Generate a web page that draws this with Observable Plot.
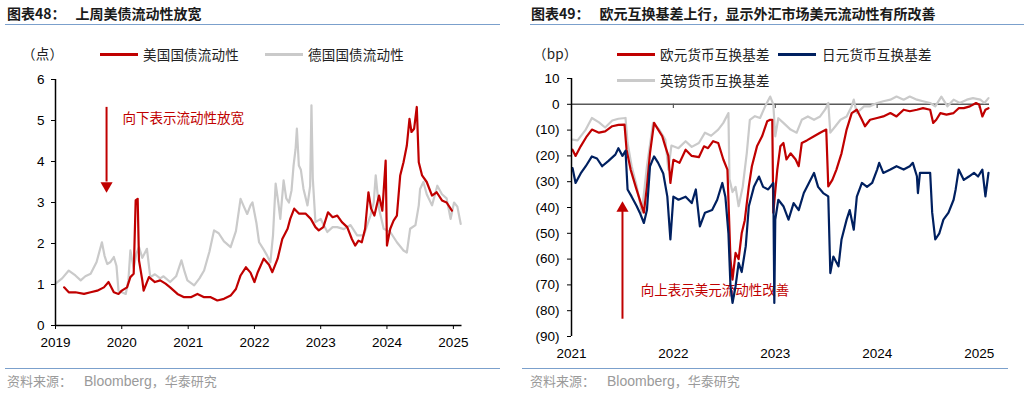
<!DOCTYPE html>
<html><head><meta charset="utf-8">
<script src="https://cdn.jsdelivr.net/npm/d3@7"></script>
<script src="https://cdn.jsdelivr.net/npm/@observablehq/plot@0.6"></script>
<style>
body{margin:0;width:1030px;height:393px;background:#fff;position:relative;overflow:hidden;font-family:"Noto Sans CJK SC","Liberation Sans",sans-serif;}
.t{position:absolute;white-space:nowrap;z-index:3;}
.title{font-size:14px;line-height:14px;font-weight:bold;color:#1a1a1a;top:6px;}
.title span{margin-left:10px;}
.rule{position:absolute;height:0;border-top:1.5px solid #7ba0cc;z-index:3;}
.src{font-size:13px;line-height:13px;color:#9a9a9a;top:374px;}
.src b{font-family:"Liberation Sans",Arial,sans-serif;font-weight:normal;font-size:14px;margin-left:12px;}
.leg{font-size:13.5px;line-height:14px;color:#222;letter-spacing:0.2px;}
.seg{position:absolute;height:3px;z-index:3;}
.plot{position:absolute;top:60px;z-index:1;}
</style></head>
<body>
<div id="left" class="plot" style="left:0px"></div>
<div id="right" class="plot" style="left:515px"></div>

<div class="t title" style="left:7px">图表48：<span>上周美债流动性放宽</span></div>
<div class="rule" style="left:5px;top:23.5px;width:495px"></div>
<div class="t title" style="left:531px">图表49：<span>欧元互换基差上行，显示外汇市场美元流动性有所改善</span></div>
<div class="rule" style="left:530px;top:23.5px;width:494px"></div>

<div class="t leg" style="left:22px;top:46px">（点）</div>
<div class="seg" style="left:100px;top:52.5px;width:38px;background:#c00000"></div>
<div class="t leg" style="left:143px;top:47px">美国国债流动性</div>
<div class="seg" style="left:265px;top:52.5px;width:38px;background:#cacaca"></div>
<div class="t leg" style="left:308px;top:47px">德国国债流动性</div>

<div class="t leg" style="left:533px;top:46px">（bp）</div>
<div class="seg" style="left:617px;top:52.5px;width:38px;background:#c00000"></div>
<div class="t leg" style="left:660px;top:47px">欧元货币互换基差</div>
<div class="seg" style="left:778px;top:52.5px;width:38px;background:#002060"></div>
<div class="t leg" style="left:822px;top:47px">日元货币互换基差</div>
<div class="seg" style="left:617px;top:78.5px;width:38px;background:#cacaca"></div>
<div class="t leg" style="left:660px;top:73px">英镑货币互换基差</div>

<div class="rule" style="left:5px;top:367.5px;width:495px"></div>
<div class="t src" style="left:7px">资料来源：<b>Bloomberg</b>，华泰研究</div>
<div class="rule" style="left:522px;top:367.5px;width:486px"></div>
<div class="t src" style="left:530px">资料来源：<b>Bloomberg</b>，华泰研究</div>

<script>
// ---------- Left chart data (chart 48) ----------
const leftYears = ["2019","2020","2021","2022","2023","2024","2025"];
const leftYTicks = [0,1,2,3,4,5,6];
const usT = [2019.13,2019.20,2019.30,2019.43,2019.53,2019.63,2019.73,2019.80,2019.88,2019.95,2020.0,2020.08,2020.13,2020.18,2020.21,2020.24,2020.26,2020.31,2020.33,2020.41,2020.50,2020.58,2020.66,2020.73,2020.84,2020.94,2021.04,2021.14,2021.24,2021.34,2021.44,2021.54,2021.64,2021.72,2021.79,2021.87,2021.94,2022.0,2022.05,2022.14,2022.22,2022.27,2022.35,2022.42,2022.50,2022.54,2022.60,2022.67,2022.77,2022.85,2022.92,2022.97,2023.04,2023.11,2023.18,2023.25,2023.32,2023.40,2023.47,2023.52,2023.57,2023.62,2023.67,2023.72,2023.76,2023.81,2023.88,2023.93,2023.98,2024.0,2024.05,2024.10,2024.15,2024.20,2024.25,2024.30,2024.34,2024.37,2024.41,2024.45,2024.48,2024.53,2024.60,2024.68,2024.75,2024.83,2024.90,2024.98];
const usV = [0.93,0.81,0.81,0.77,0.81,0.85,0.93,1.06,0.81,0.77,0.85,0.93,1.18,1.26,3.05,3.09,1.59,1.10,0.85,1.18,1.06,1.10,1.02,0.93,0.77,0.69,0.69,0.77,0.69,0.69,0.61,0.65,0.73,0.89,1.22,1.42,1.29,1.06,1.30,1.63,1.48,1.30,1.63,2.11,2.36,2.60,2.85,2.73,2.73,2.60,2.40,2.32,2.40,2.76,2.64,2.68,2.52,2.40,2.11,1.95,2.07,2.03,2.36,3.25,2.85,2.68,3.17,2.80,4.02,1.95,2.36,2.56,2.68,3.66,3.98,4.39,5.04,4.72,4.80,5.33,3.98,3.66,3.50,3.17,3.25,3.05,3.0,2.80];
const deT = [2019.0,2019.1,2019.2,2019.3,2019.38,2019.45,2019.53,2019.62,2019.70,2019.74,2019.78,2019.83,2019.88,2019.92,2019.95,2020.06,2020.10,2020.13,2020.18,2020.22,2020.26,2020.31,2020.38,2020.43,2020.50,2020.58,2020.63,2020.73,2020.82,2020.90,2020.95,2020.99,2021.09,2021.17,2021.24,2021.32,2021.39,2021.46,2021.54,2021.64,2021.72,2021.79,2021.84,2021.89,2021.94,2021.97,2022.03,2022.07,2022.14,2022.19,2022.24,2022.28,2022.32,2022.36,2022.39,2022.44,2022.48,2022.52,2022.56,2022.59,2022.62,2022.64,2022.67,2022.70,2022.74,2022.80,2022.84,2022.86,2022.88,2022.92,2023.0,2023.10,2023.18,2023.25,2023.35,2023.45,2023.55,2023.65,2023.75,2023.80,2023.83,2023.88,2023.95,2024.05,2024.15,2024.25,2024.30,2024.35,2024.43,2024.48,2024.50,2024.55,2024.60,2024.68,2024.76,2024.83,2024.90,2024.96,2025.01,2025.06,2025.11];
const deV = [1.02,1.15,1.34,1.22,1.10,1.20,1.26,1.55,2.03,1.70,1.50,1.55,1.67,1.45,0.85,0.77,1.10,1.83,1.40,1.75,1.91,1.65,1.87,1.18,1.25,1.15,1.20,1.06,1.20,1.59,1.30,1.10,0.98,1.15,1.34,1.80,2.32,2.25,2.05,1.91,2.30,3.09,2.90,2.72,2.93,3.00,2.50,2.03,1.85,1.71,1.54,2.20,3.46,3.00,2.60,3.54,3.10,3.00,3.30,3.90,4.30,4.80,3.90,3.80,3.33,2.93,3.40,5.37,3.59,2.52,2.60,2.28,2.40,2.40,2.35,2.45,2.20,2.20,2.68,3.00,3.66,2.85,2.36,2.28,2.03,1.83,1.78,2.36,2.45,2.93,3.33,3.50,3.20,2.93,3.41,3.20,3.10,2.60,3.00,2.90,2.48];
const leftNote = "向下表示流动性放宽";

// ---------- Right chart data (chart 49) ----------
const rightYears = ["2021","2022","2023","2024","2025"];
const rightYTicks = [10,0,-10,-20,-30,-40,-50,-60,-70,-80,-90];
const eurT = [2021.01,2021.04,2021.09,2021.15,2021.20,2021.27,2021.33,2021.40,2021.46,2021.52,2021.54,2021.58,2021.63,2021.68,2021.71,2021.74,2021.77,2021.81,2021.85,2021.89,2021.92,2021.95,2021.97,2022.0,2022.06,2022.12,2022.18,2022.25,2022.30,2022.34,2022.39,2022.44,2022.49,2022.53,2022.56,2022.58,2022.61,2022.64,2022.67,2022.70,2022.74,2022.77,2022.82,2022.87,2022.92,2022.95,2022.97,2022.98,2023.02,2023.05,2023.08,2023.11,2023.15,2023.20,2023.23,2023.26,2023.31,2023.38,2023.44,2023.50,2023.52,2023.56,2023.60,2023.65,2023.70,2023.75,2023.80,2023.85,2023.88,2023.93,2024.0,2024.06,2024.13,2024.19,2024.26,2024.32,2024.39,2024.45,2024.52,2024.55,2024.58,2024.62,2024.68,2024.75,2024.80,2024.85,2024.91,2024.97,2025.0,2025.03,2025.06,2025.09];
const eurV = [-17.6,-20,-16.3,-12.4,-9.8,-11,-10.5,-8.5,-8,-7.9,-17.6,-25.3,-32,-38.3,-42,-31.8,-18.9,-7.2,-9.8,-12.4,-16.3,-20,-30.5,-21.5,-22.7,-17.6,-20,-20.5,-16.3,-17,-14.3,-15,-21.4,-25.3,-60,-68,-57.6,-60,-50,-45,-31.8,-24,-16.3,-12.4,-6.6,-6,-6,-42,-25.3,-16.3,-15,-21.4,-19,-21.4,-24,-15,-14,-12.4,-11,-9.8,-31.8,-29.3,-25.3,-19,-9.8,-3.4,-2.1,-6,-8.5,-6,-5.3,-4.7,-3.4,-4.7,-2.1,-2.7,-2.1,-1.5,-2.1,-7.2,-6,-3.4,-4,-3.4,-1.5,-1.5,-0.8,0.5,-0.2,-4.7,-2.1,-1.5];
const jpyT = [2021.01,2021.04,2021.09,2021.14,2021.20,2021.25,2021.30,2021.36,2021.43,2021.46,2021.50,2021.53,2021.55,2021.59,2021.64,2021.67,2021.71,2021.74,2021.77,2021.81,2021.85,2021.90,2021.94,2021.97,2022.0,2022.05,2022.12,2022.18,2022.22,2022.26,2022.31,2022.38,2022.43,2022.48,2022.51,2022.54,2022.56,2022.58,2022.61,2022.64,2022.67,2022.71,2022.74,2022.79,2022.84,2022.88,2022.93,2022.98,2022.99,2023.0,2023.03,2023.08,2023.13,2023.18,2023.23,2023.28,2023.33,2023.38,2023.42,2023.47,2023.52,2023.54,2023.57,2023.62,2023.65,2023.70,2023.73,2023.77,2023.80,2023.85,2023.90,2023.95,2024.0,2024.02,2024.06,2024.13,2024.19,2024.26,2024.32,2024.35,2024.39,2024.40,2024.42,2024.48,2024.52,2024.54,2024.57,2024.61,2024.65,2024.70,2024.75,2024.77,2024.80,2024.85,2024.90,2024.95,2024.99,2025.03,2025.06,2025.09];
const jpyV = [-24.7,-30.5,-26.8,-24,-20.2,-21,-24,-22,-19.5,-17,-20,-18,-33,-35.8,-39.5,-42,-46,-41,-24,-20.2,-22.7,-26.8,-35.8,-52.4,-35.8,-37,-35.8,-38.3,-33,-47.3,-42,-41,-37,-30.5,-35.8,-50,-70.5,-77,-70.5,-61.5,-65,-55,-39.5,-32,-28,-32,-33,-30.5,-77,-44.7,-37,-39.5,-44.7,-38.3,-41,-34.4,-30.5,-26.6,-32,-34.4,-35.7,-65.4,-59,-62.8,-52.4,-44.7,-41,-48.6,-35.8,-30.5,-32,-30.5,-25.3,-22.7,-26.6,-25.3,-24,-25.3,-24,-22.7,-27.9,-34.4,-26.6,-26.6,-26.6,-42,-52.4,-50,-44.7,-42,-37,-33,-25.3,-29.3,-28,-26.6,-28,-25.3,-35.7,-26.6];
const gbpT = [2021.01,2021.06,2021.14,2021.20,2021.27,2021.33,2021.40,2021.46,2021.53,2021.55,2021.59,2021.64,2021.69,2021.74,2021.80,2021.86,2021.92,2021.95,2021.98,2022.05,2022.12,2022.18,2022.25,2022.31,2022.37,2022.44,2022.49,2022.54,2022.55,2022.58,2022.61,2022.64,2022.68,2022.72,2022.75,2022.80,2022.85,2022.90,2022.95,2022.98,2023.0,2023.03,2023.08,2023.15,2023.21,2023.26,2023.32,2023.38,2023.44,2023.49,2023.52,2023.54,2023.59,2023.64,2023.70,2023.75,2023.77,2023.80,2023.87,2023.93,2024.0,2024.06,2024.13,2024.19,2024.26,2024.32,2024.39,2024.45,2024.52,2024.57,2024.63,2024.69,2024.75,2024.81,2024.88,2024.94,2025.01,2025.05,2025.09];
const gbpV = [-13.7,-14,-9.8,-5.3,-7,-9,-6.3,-5.6,-5.3,-15,-24,-31.8,-42,-24,-7.2,-9.8,-13.7,-25.3,-16,-17,-14.3,-16.5,-15,-11,-12.2,-9.8,-7.2,-3.4,-29,-34,-32,-39.5,-32,-18.9,-6,-4.6,-5.3,-0.8,3,0,-12.4,-5.4,-7.2,-9.8,-11,-6,-4.7,-6,-4.7,-2,0.5,-11,-8.5,-6,-4.7,-0.8,1.8,-3.4,-0.8,-0.8,0.5,1.2,1.8,3,1.8,3,1.8,1.2,0.5,-0.8,3,-0.8,1.8,0.5,1.8,2.4,1.8,0.5,2.4];
const rightNote = "向上表示美元流动性改善";

// ---------- helpers ----------
const RED = "#c00000", NAVY = "#002060", GRAY = "#cacaca";
function toDate(y){const f=Math.floor(y);return new Date(Date.UTC(f,0,1)+(y-f)*365.25*86400000);}
function rows(T,V){return T.map((t,i)=>({date:toDate(t),value:V[i]}));}
const axisStyle = {fontFamily:"'Liberation Sans', Arial, sans-serif", fontSize:"13.5px", color:"#000", background:"transparent", overflow:"visible"};
const cjk = "Noto Sans CJK SC";

// ---------- left plot ----------
const leftXTicks = leftYears.map(y=>toDate(+y));
const leftPlot = Plot.plot({
  width:510, height:300,
  marginLeft:55, marginRight:48.5, marginTop:19, marginBottom:35,
  style: axisStyle,
  x:{type:"utc", domain:[toDate(2019), toDate(2025.13)]},
  y:{domain:[0,6]},
  marks:[
    Plot.axisY({ticks:leftYTicks, tickFormat:d=>`${d}`, tickSize:4, tickPadding:7, label:null, stroke:"#000"}),
    Plot.axisX({ticks:leftXTicks, tickFormat:"%Y", tickSize:4, tickPadding:8, label:null, stroke:"#000"}),
    Plot.text([leftNote], {x:()=>toDate(2020.01), y:()=>5.05, text:d=>d, textAnchor:"start", fill:RED, fontSize:13.5, fontFamily:cjk}),
    Plot.ruleX([toDate(2019.77)], {y1:5.32, y2:3.5, stroke:RED, strokeWidth:2}),
    Plot.dot([toDate(2019.77)], {x:d=>d, y:()=>3.41, symbol:"triangle", rotate:180, r:4.5, fill:RED, stroke:"none"}),
    Plot.line(rows(deT,deV), {x:"date", y:"value", stroke:GRAY, strokeWidth:2.2, curve:"linear"}),
    Plot.line(rows(usT,usV), {x:"date", y:"value", stroke:RED, strokeWidth:2.2, curve:"linear"}),
    Plot.ruleX([toDate(2019)], {stroke:"#000", strokeWidth:1.5}),
    Plot.ruleY([0], {stroke:"#000", strokeWidth:1.5})
  ]
});
document.getElementById("left").append(leftPlot);

// ---------- right plot ----------
const rightXTicks = rightYears.map(y=>toDate(+y));
const rightPlot = Plot.plot({
  width:515, height:300,
  marginLeft:56, marginRight:41, marginTop:18, marginBottom:24,
  style: axisStyle,
  x:{type:"utc", domain:[toDate(2021), toDate(2025.1)]},
  y:{domain:[-90,10]},
  marks:[
    Plot.axisY({ticks:rightYTicks, tickSize:4, tickPadding:8, label:null, stroke:"#000", tickFormat:d=>d<0?`(${-d})`:`${d}`}),
    Plot.axisX({ticks:rightXTicks, tickFormat:"%Y", tickSize:0, tickPadding:12, label:null}),
    Plot.text([rightNote], {x:()=>toDate(2021.68), y:()=>-72.1, text:d=>d, textAnchor:"start", fill:RED, fontSize:13.5, fontFamily:cjk}),
    Plot.ruleX([toDate(2021.5)], {y1:-83.3, y2:-41, stroke:RED, strokeWidth:2}),
    Plot.dot([toDate(2021.5)], {x:d=>d, y:()=>-40.3, symbol:"triangle", r:4.5, fill:RED, stroke:"none"}),
    Plot.ruleY([0], {stroke:"#595959", strokeWidth:1.5}),
    Plot.ruleX(rightXTicks.slice(1), {y1:0, y2:-1.6, stroke:"#595959", strokeWidth:1.2}),
    Plot.line(rows(gbpT,gbpV), {x:"date", y:"value", stroke:GRAY, strokeWidth:2.2}),
    Plot.line(rows(eurT,eurV), {x:"date", y:"value", stroke:RED, strokeWidth:2.2}),
    Plot.line(rows(jpyT,jpyV), {x:"date", y:"value", stroke:NAVY, strokeWidth:2.2}),
    Plot.ruleX([toDate(2021)], {stroke:"#000", strokeWidth:1.5})
  ]
});
document.getElementById("right").append(rightPlot);
</script>
</body></html>
